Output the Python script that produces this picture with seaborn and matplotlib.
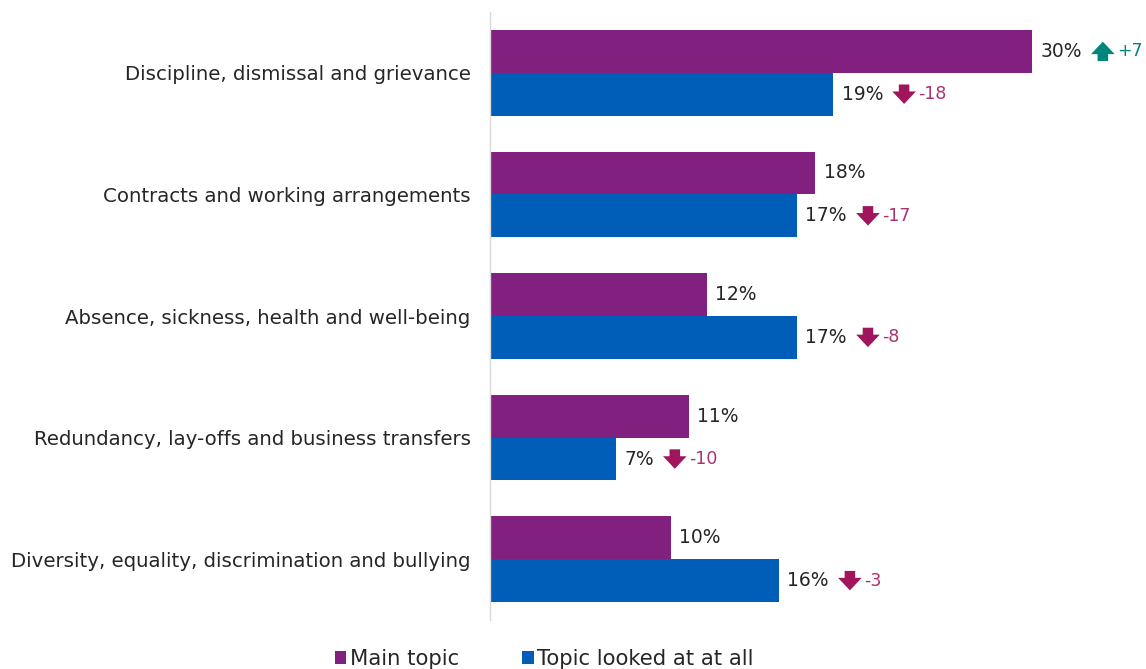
import matplotlib
matplotlib.use("Agg")
import matplotlib.pyplot as plt
from matplotlib.transforms import offset_copy
from matplotlib.patches import Patch
import pandas as pd
import seaborn as sns

# Chart data
topics = [
    "Discipline, dismissal and grievance",
    "Contracts and working arrangements",
    "Absence, sickness, health and well-being",
    "Redundancy, lay-offs and business transfers",
    "Diversity, equality, discrimination and bullying",
]
series_names = ["Main topic", "Topic looked at at all"]
main_topic = [30, 18, 12, 11, 10]
looked_at = [19, 17, 17, 7, 16]
# Change versus previous period (None = not shown)
main_change = [7, None, None, None, None]
looked_change = [-18, -17, -8, -10, -3]

PURPLE = "#82207F"
BLUE = "#005EB8"
UP_COL = "#00857A"
DOWN_COL = "#A0155C"
DOWN_TXT = "#A8336E"
TEXT = "#262626"

df = pd.DataFrame({
    "topic": topics * 2,
    "pct": main_topic + looked_at,
    "series": [series_names[0]] * len(topics) + [series_names[1]] * len(topics),
})

sns.set_theme(style="white")
plt.rcParams["font.family"] = ["DejaVu Sans"]

fig = plt.figure(figsize=(11.46, 6.69), dpi=100)
ax = fig.add_axes([490 / 1146, 1 - 620 / 669, 1 - 490 / 1146, (620 - 12) / 669])

sns.barplot(data=df, y="topic", x="pct", hue="series", orient="h",
            palette=[PURPLE, BLUE], width=0.705, ax=ax, legend=False,
            saturation=1, linewidth=0, edgecolor="none")

ax.set_xlim(0, (1146 - 490) / (542 / 30))
ax.set_ylim(len(topics) - 0.5, -0.5)
ax.set_xlabel("")
ax.set_ylabel("")
ax.set_xticks([])
ax.tick_params(axis="y", length=0, pad=14, labelsize=14.25, labelcolor=TEXT)
for s in ["top", "right", "bottom"]:
    ax.spines[s].set_visible(False)
ax.spines["left"].set_color("#D9D9D9")
ax.spines["left"].set_linewidth(1)


def draw_change(x, y, change, start_pts):
    """Block arrow plus signed change number after a value label."""
    if change is None:
        return
    up = change > 0
    col = UP_COL if up else DOWN_COL
    tcol = UP_COL if up else DOWN_TXT
    top = offset_copy(ax.transData, fig=fig, x=start_pts + 7, y=7, units="points")
    bot = offset_copy(ax.transData, fig=fig, x=start_pts + 7, y=-7, units="points")
    tail, head = (bot, top) if up else (top, bot)
    ax.annotate("", xy=(x, y), xycoords=head, xytext=(x, y), textcoords=tail,
                arrowprops=dict(arrowstyle="simple,head_length=0.45,head_width=0.85,tail_width=0.38",
                                color=col, shrinkA=0, shrinkB=0, mutation_scale=20, lw=0))
    label = f"+{change}" if up else f"{change}"
    ax.annotate(label, xy=(x, y), xytext=(start_pts + 17, 0), textcoords="offset points",
                va="center", ha="left", fontsize=12.5, color=tcol)


changes = [main_change, looked_change]
for container, vals, chg in zip(ax.containers, [main_topic, looked_at], changes):
    for bar, v, c in zip(container, vals, chg):
        y = bar.get_y() + bar.get_height() / 2
        ax.annotate(f"{v}%", xy=(v, y), xytext=(6, 0), textcoords="offset points",
                    va="center", ha="left", fontsize=13.5, color=TEXT)
        width_pts = 44 if v >= 10 else 35
        draw_change(v, y, c, width_pts)

handles = [Patch(facecolor=PURPLE, edgecolor="none"), Patch(facecolor=BLUE, edgecolor="none")]
fig.legend(handles, series_names, loc="center", bbox_to_anchor=(544 / 1146, 1 - 659 / 669),
           ncol=2, frameon=False, fontsize=15.2, handlelength=0.55, handleheight=0.55,
           handletextpad=0.15, columnspacing=3.0, labelcolor=TEXT)

fig.savefig("out.png", dpi=100)
